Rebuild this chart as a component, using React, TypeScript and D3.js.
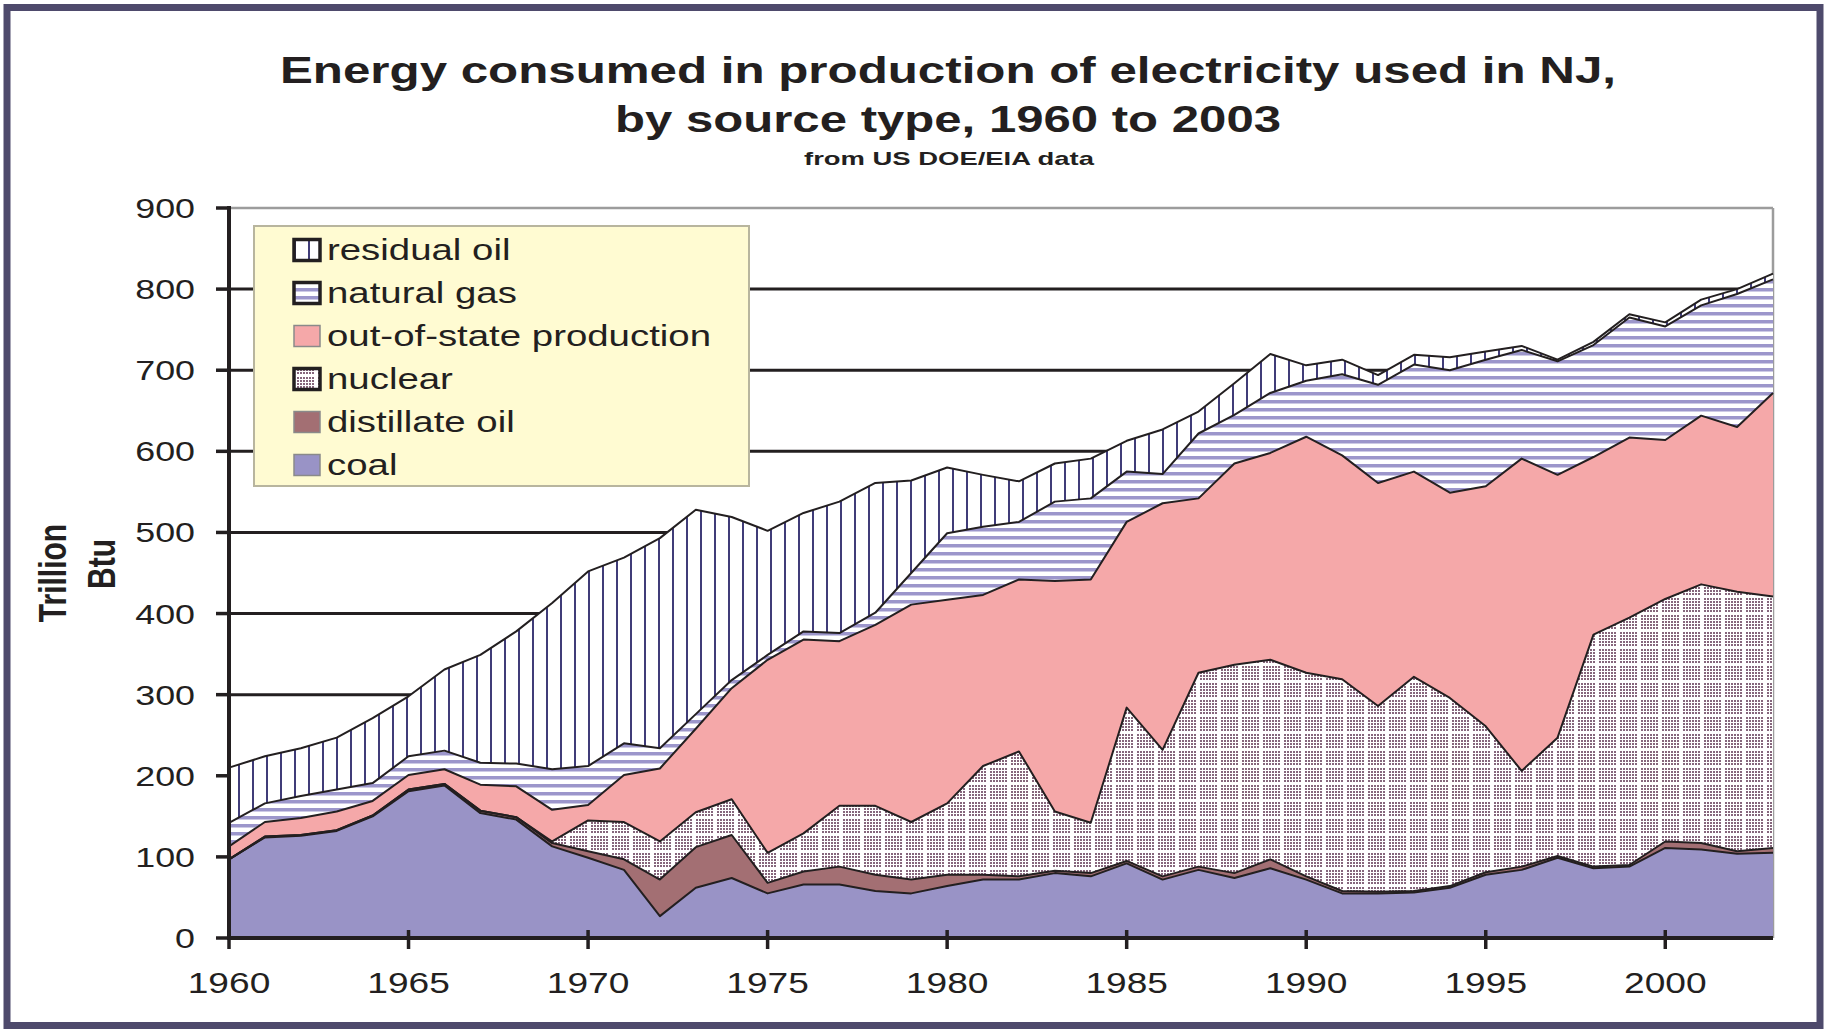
import React from "react";
import * as d3 from "d3";

// years on the category axis
const years = [
  1960, 1961, 1962, 1963, 1964, 1965, 1966, 1967, 1968, 1969,
  1970, 1971, 1972, 1973, 1974, 1975, 1976, 1977, 1978, 1979,
  1980, 1981, 1982, 1983, 1984, 1985, 1986, 1987, 1988, 1989,
  1990, 1991, 1992, 1993, 1994, 1995, 1996, 1997, 1998, 1999,
  2000, 2001, 2002, 2003
];

// trillion Btu (stacked bottom to top)
const coal = [
  97, 124, 126, 132, 150, 181, 188, 154, 146, 113,
  99, 84, 27, 62, 74, 55, 66, 66, 58, 55,
  64, 72, 72, 80, 76, 92, 72, 84, 74, 86,
  72, 55, 55, 56, 62, 78, 84, 99, 86, 88,
  111, 109, 104, 105
];
const distillateOil = [
  0, 1, 1, 1, 1, 2, 2, 3, 3, 4,
  8, 13, 45, 50, 53, 13, 16, 22, 20, 17,
  14, 6, 4, 3, 4, 3, 4, 4, 6, 11,
  4, 3, 2, 2, 2, 3, 4, 2, 2, 2,
  8, 8, 3, 6
];
const nuclear = [
  0, 0, 0, 0, 0, 0, 0, 0, 0, 2,
  38, 46, 47, 43, 44, 37, 47, 75, 85, 71,
  88, 134, 154, 73, 62, 189, 156, 239, 257, 246,
  251, 261, 229, 264, 232, 180, 118, 146, 286, 305,
  299, 319, 320, 310
];
const outOfState = [
  16, 18, 21, 23, 18, 18, 18, 32, 38, 39,
  19, 58, 90, 103, 137, 238, 239, 203, 223, 268,
  251, 211, 212, 284, 300, 229, 304, 215, 248, 255,
  291, 276, 275, 253, 253, 296, 385, 324, 219, 222,
  196, 208, 203, 251
];
const naturalGas = [
  29, 23, 27, 27, 22, 23, 23, 27, 28, 50,
  48, 39, 25, 18, 10, 6, 10, 10, 15, 39,
  82, 84, 71, 98, 100, 62, 36, 80, 60, 74,
  69, 100, 121, 132, 151, 156, 134, 140, 138, 148,
  140, 136, 164, 140
];
const residualOil = [
  68, 58, 59, 64, 80, 74, 100, 133, 163, 205,
  240, 229, 259, 252, 201, 153, 146, 162, 160, 114,
  81, 64, 50, 47, 49, 38, 55, 27, 39, 48,
  19, 18, 12, 12, 16, 10, 5, 2, 4, 4,
  5, 7, 6, 7
];

const yTicks = [0, 100, 200, 300, 400, 500, 600, 700, 800, 900];
const xTicks = [1960, 1965, 1970, 1975, 1980, 1985, 1990, 1995, 2000];

const seriesKeys = ["coal", "distillate", "nuclear", "outOfState", "naturalGas", "residual"];
const legendKeys = ["residual", "naturalGas", "outOfState", "nuclear", "distillate", "coal"];
const legendLabels: Record<string, string> = {
  residual: "residual oil",
  naturalGas: "natural gas",
  outOfState: "out-of-state production",
  nuclear: "nuclear",
  distillate: "distillate oil",
  coal: "coal"
};

const fills: Record<string, string> = {
  coal: "#9993c6",
  distillate: "#a36f73",
  nuclear: "url(#nuclearFill)",
  outOfState: "#f5a8a9",
  naturalGas: "url(#gasFill)",
  residual: "url(#residualFill)"
};
const boldSwatch = new Set(["residual", "naturalGas", "nuclear"]);

const WIDTH = 1830;
const HEIGHT = 1032;
const INK = "#231f20";
const FONT = "'Liberation Sans', Arial, sans-serif";
const STRETCH = 1.28; // the original picture is stretched sideways

interface Row {
  year: number;
  [key: string]: number;
}

const rows: Row[] = years.map((year, i) => ({
  year,
  coal: coal[i],
  distillate: distillateOil[i],
  nuclear: nuclear[i],
  outOfState: outOfState[i],
  naturalGas: naturalGas[i],
  residual: residualOil[i]
}));

const st = (x: number, y: number) => `translate(${x},${y}) scale(${STRETCH},1)`;

const App: React.FC = () => {
  // plot box
  const left = 229;
  const right = 1773;
  const top = 208;
  const bottom = 938;

  const x = d3.scaleLinear().domain([1960, 2003]).range([left, right]);
  const y = d3.scaleLinear().domain([0, 900]).range([bottom, top]);

  const stacked = d3.stack<Row>().keys(seriesKeys)(rows);

  const area = d3
    .area<d3.SeriesPoint<Row>>()
    .x(d => x(d.data.year))
    .y0(d => y(d[0]))
    .y1(d => y(d[1]));

  const topLine = d3
    .line<d3.SeriesPoint<Row>>()
    .x(d => x(d.data.year))
    .y(d => y(d[1]));

  // legend box
  const lg = { x: 254, y: 226, w: 495, h: 260, row0: 250, step: 43 };

  return (
    <svg
      width={WIDTH}
      height={HEIGHT}
      style={{ position: "absolute", left: 0, top: 0, display: "block", background: "#fff" }}
      fontFamily={FONT}
    >
      <defs>
        <pattern id="dots" width="3" height="3" patternUnits="userSpaceOnUse">
          <rect width="3" height="3" fill="#fff" />
          <rect width="2" height="2" fill="#86667c" />
        </pattern>
        <pattern id="nuclearFill" width="21" height="17" patternUnits="userSpaceOnUse">
          <rect width="21" height="17" fill="url(#dots)" />
          <rect width="21" height="2" fill="#fff" />
          <rect width="2" height="17" fill="#fff" />
        </pattern>
        <pattern id="gasFill" width="10" height="8" patternUnits="userSpaceOnUse">
          <rect width="10" height="8" fill="#fff" />
          <rect width="10" height="3.5" fill="#9c96cb" />
        </pattern>
        <pattern id="residualFill" width="14" height="10" patternUnits="userSpaceOnUse">
          <rect width="14" height="10" fill="#fff" />
          <rect width="2" height="10" fill="#403c78" />
        </pattern>
      </defs>

      {/* outer frame */}
      <rect x={7} y={7.5} width={1813} height={1018} fill="#fff" stroke="#4e4a6c" strokeWidth={7} />

      {/* titles */}
      <text x={948} y={83} textAnchor="middle" fontWeight="bold" fontSize={37} fill={INK}
        textLength={1336} lengthAdjust="spacingAndGlyphs">
        Energy consumed in production of electricity used in NJ,
      </text>
      <text x={948} y={132} textAnchor="middle" fontWeight="bold" fontSize={37} fill={INK}
        textLength={666} lengthAdjust="spacingAndGlyphs">
        by source type, 1960 to 2003
      </text>
      <text x={949} y={165} textAnchor="middle" fontWeight="bold" fontSize={19} fill={INK}
        textLength={290} lengthAdjust="spacingAndGlyphs">
        from US DOE/EIA data
      </text>

      {/* plot border (top/right) */}
      <line x1={left} x2={right} y1={top} y2={top} stroke="#9c9c9c" strokeWidth={2.5} />
      <line x1={right} x2={right} y1={top} y2={bottom} stroke="#9c9c9c" strokeWidth={2.5} />

      {/* gridlines */}
      {yTicks.filter(t => t > 0 && t < 900).map(t => (
        <line key={t} x1={left} x2={right} y1={y(t)} y2={y(t)} stroke={INK} strokeWidth={3} />
      ))}

      {/* stacked areas */}
      {stacked.map(s => (
        <path key={s.key} d={area(s) as string} fill={fills[s.key]} />
      ))}
      {stacked.map(s => (
        <path key={s.key + "-edge"} d={topLine(s) as string} fill="none" stroke={INK}
          strokeWidth={2} strokeLinejoin="round" />
      ))}

      {/* y axis */}
      <line x1={left} x2={left} y1={top - 2} y2={bottom + 2} stroke={INK} strokeWidth={4} />
      {yTicks.map(t => (
        <g key={t}>
          <line x1={left - 13} x2={left} y1={y(t)} y2={y(t)} stroke={INK} strokeWidth={3.5} />
          <text transform={st(195, y(t) + 10)} textAnchor="end" fontSize={28} fill={INK}>
            {t}
          </text>
        </g>
      ))}

      {/* x axis */}
      <line x1={left - 2} x2={right} y1={bottom} y2={bottom} stroke={INK} strokeWidth={4} />
      {xTicks.map(t => (
        <g key={t}>
          <line x1={x(t)} x2={x(t)} y1={bottom - 8} y2={bottom + 11} stroke={INK} strokeWidth={3.5} />
          <text transform={st(x(t), 993)} textAnchor="middle" fontSize={29} fill={INK}>
            {t}
          </text>
        </g>
      ))}

      {/* y axis title */}
      <text transform={`translate(66,573) scale(${STRETCH},1) rotate(-90)`} textAnchor="middle"
        fontWeight="bold" fontSize={30} fill={INK}>
        Trillion
      </text>
      <text transform={`translate(115,564) scale(${STRETCH},1) rotate(-90)`} textAnchor="middle"
        fontWeight="bold" fontSize={30} fill={INK}>
        Btu
      </text>

      {/* legend */}
      <rect x={lg.x} y={lg.y} width={lg.w} height={lg.h} fill="#fffbd2" stroke="#b8b59e" strokeWidth={2} />
      {legendKeys.map((k, i) => {
        const cy = lg.row0 + i * lg.step;
        const bold = boldSwatch.has(k);
        return (
          <g key={k}>
            <rect x={294} y={cy - 10.5} width={26} height={21} fill={fills[k]}
              stroke={bold ? INK : "#8a8a8a"} strokeWidth={bold ? 3.5 : 1.5} />
            <text transform={st(327, cy + 10)} fontSize={30} fill={INK}>
              {legendLabels[k]}
            </text>
          </g>
        );
      })}
    </svg>
  );
};

export default App;
